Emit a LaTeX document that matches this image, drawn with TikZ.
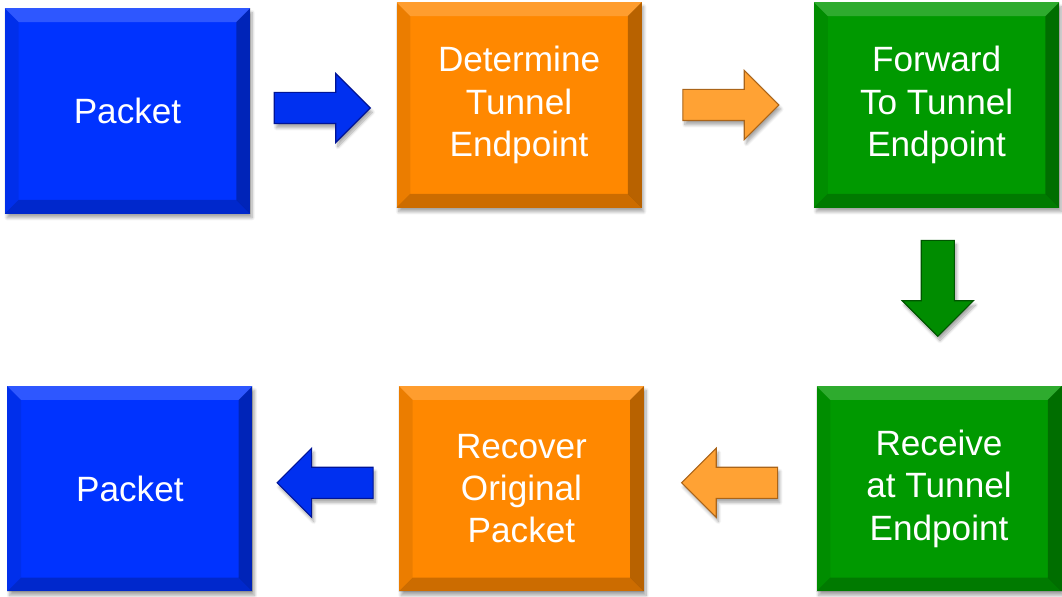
\documentclass[tikz,border=0pt]{standalone}
\usepackage{fontspec}
\setmainfont{Liberation Sans}
\usetikzlibrary{positioning, calc, shapes.arrows, shadows.blur}

\definecolor{pktblue}{RGB}{0,51,255}
\definecolor{tunorange}{RGB}{255,136,0}
\definecolor{fwdgreen}{RGB}{0,153,0}
\definecolor{arrblue}{RGB}{0,48,240}
\definecolor{arrblueline}{RGB}{0,20,150}
\definecolor{arrorange}{RGB}{255,162,52}
\definecolor{arrorangeline}{RGB}{170,100,25}
\definecolor{arrgreen}{RGB}{0,140,0}
\definecolor{arrgreenline}{RGB}{0,85,0}

\tikzstyle{box} = [rectangle, text=white, minimum width=6.125cm, minimum height=5.13cm, align=center, font=\fontsize{25}{30}\selectfont, blur shadow={shadow xshift=1.5pt, shadow yshift=-3pt, shadow opacity=35, shadow blur steps=10}]
\tikzstyle{blockarrow} = [single arrow, inner xsep=0pt, inner ysep=0.375cm, minimum height=2.4cm, single arrow head extend=0.475cm, line width=0.8pt, blur shadow={shadow xshift=1.5pt, shadow yshift=-3pt, shadow opacity=35, shadow blur steps=8}]

% bevelled edges of a box
\newcommand{\boxbevel}[1]{%
  \fill[white, opacity=0.18] (#1.north west) -- (#1.north east) -- ([shift={(-0.35,-0.35)}]#1.north east) -- ([shift={(0.35,-0.35)}]#1.north west) -- cycle;
  \fill[black, opacity=0.08] (#1.north west) -- ([shift={(0.35,-0.35)}]#1.north west) -- ([shift={(0.35,0.35)}]#1.south west) -- (#1.south west) -- cycle;
  \fill[black, opacity=0.28] (#1.north east) -- (#1.south east) -- ([shift={(-0.35,0.35)}]#1.south east) -- ([shift={(-0.35,-0.35)}]#1.north east) -- cycle;
  \fill[black, opacity=0.2] (#1.south west) -- ([shift={(0.35,0.35)}]#1.south west) -- ([shift={(-0.35,0.35)}]#1.south east) -- (#1.south east) -- cycle;
}

\begin{document}
\begin{tikzpicture}
        \useasboundingbox (0,0) rectangle (26.55,14.925);
        % Place boxes
        \node [box, fill=pktblue] (pktin) at (3.1875,12.15) {Packet};
        \node [box, fill=tunorange, right=3.65cm of pktin, yshift=0.15cm] (tunsel) {Determine\\Tunnel\\Endpoint};
        \node [box, fill=fwdgreen, right=4.3cm of tunsel] (fwd) {Forward\\To Tunnel\\Endpoint};
        \node [box, fill=fwdgreen, below=4.45cm of fwd, xshift=0.06cm] (recv) {Receive\\at Tunnel\\Endpoint};
        \node [box, fill=tunorange, left=4.3cm of recv] (recov) {Recover\\Original\\Packet};
        \node [box, fill=pktblue, left=3.65cm of recov] (pktout) {Packet};
        \foreach \n in {pktin,tunsel,fwd,recv,recov,pktout}
            \boxbevel{\n};
        % Place arrows
        \node [blockarrow, fill=arrblue, draw=arrblueline, xshift=-0.22cm] (a1) at ($(pktin.east)!0.5!(tunsel.west)$) {};
        \node [blockarrow, fill=arrorange, draw=arrorangeline, xshift=-0.12cm] (a2) at ($(tunsel.east)!0.5!(fwd.west)$) {};
        \node [blockarrow, fill=arrgreen, draw=arrgreenline, shape border rotate=270, inner xsep=0.4cm, inner ysep=0pt, yshift=0.42cm] (a3) at ($(fwd.south)!0.5!(recv.north)$) {};
        \node [blockarrow, fill=arrorange, draw=arrorangeline, shape border rotate=180, xshift=0.18cm, yshift=0.15cm] (a4) at ($(recv.west)!0.5!(recov.east)$) {};
        \node [blockarrow, fill=arrblue, draw=arrblueline, shape border rotate=180, xshift=0.18cm, yshift=0.15cm] (a5) at ($(recov.west)!0.5!(pktout.east)$) {};
    \end{tikzpicture}
\end{document}
